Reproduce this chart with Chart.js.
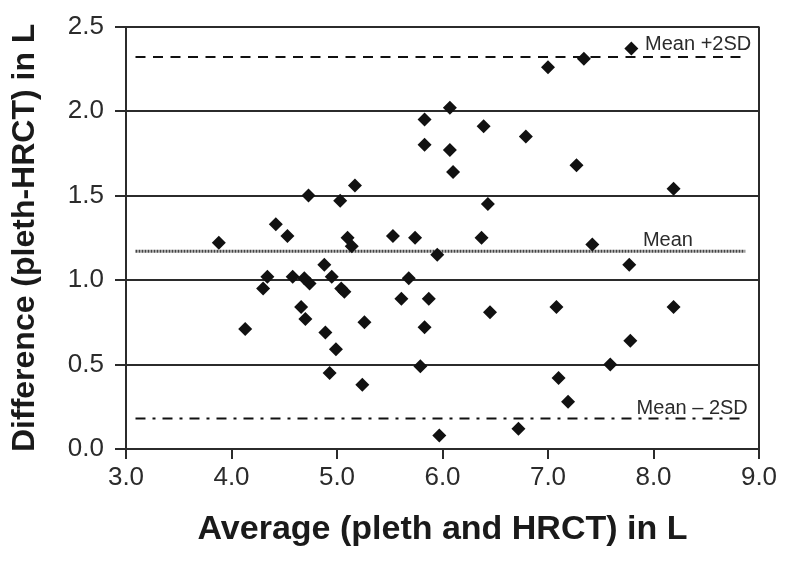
<!DOCTYPE html>
<html>
<head>
<meta charset="utf-8">
<script src="https://cdn.jsdelivr.net/npm/chart.js@4"></script>
<style>
    html, body { margin: 0; padding: 0; background: #fff; }
    canvas { display: block; }
</style>
</head>
<body>
<canvas id="baChart" width="790" height="569"></canvas>
<script>
// Average of the two methods (x) and their difference (y), litres
const averages = [
    3.88, 4.13, 4.30, 4.34, 4.42, 4.53, 4.58, 4.69, 4.74, 4.66,
    4.70, 4.88, 4.95, 4.89, 4.99, 4.93, 5.04, 5.07, 5.10, 5.14,
    5.26, 5.24, 5.53, 5.74, 5.68, 5.61, 5.87, 5.83, 5.79, 5.95,
    5.97, 4.73, 5.03, 5.17, 5.83, 5.83, 6.07, 6.07, 6.10, 7.79,
    7.34, 7.00, 6.39, 6.79, 7.27, 8.19, 6.43, 6.37, 7.42, 7.77,
    6.45, 7.08, 8.19, 7.78, 7.59, 7.10, 7.19, 6.72
];
const differences = [
    1.22, 0.71, 0.95, 1.02, 1.33, 1.26, 1.02, 1.01, 0.98, 0.84,
    0.77, 1.09, 1.02, 0.69, 0.59, 0.45, 0.95, 0.93, 1.25, 1.20,
    0.75, 0.38, 1.26, 1.25, 1.01, 0.89, 0.89, 0.72, 0.49, 1.15,
    0.08, 1.50, 1.47, 1.56, 1.95, 1.80, 2.02, 1.77, 1.64, 2.37,
    2.31, 2.26, 1.91, 1.85, 1.68, 1.54, 1.45, 1.25, 1.21, 1.09,
    0.81, 0.84, 0.84, 0.64, 0.50, 0.42, 0.28, 0.12
];

// Reference lines
const meanDiff = 1.17;
const upperLimit = 2.32;
const lowerLimit = 0.18;
const lineSpan = [3.09, 8.87];

const xTicks = [3, 4, 5, 6, 7, 8, 9];
const yTicks = [0, 0.5, 1, 1.5, 2, 2.5];

const ink = '#2b2b2b';
const fontFamily = '"Liberation Sans", Arial, Helvetica, sans-serif';

const points = averages.map((x, i) => ({ x: x, y: differences[i] }));

function flatLine(y) {
    return lineSpan.map(x => ({ x: x, y: y }));
}

// Labels sitting on the reference lines
const lineLabels = {
    id: 'lineLabels',
    afterDatasetsDraw(chart) {
        const { ctx, scales } = chart;
        const labels = [
            { text: 'Mean +2SD', x: 7.92, y: upperLimit, lift: 7 },
            { text: 'Mean', x: 7.90, y: meanDiff, lift: 5 },
            { text: 'Mean \u2013 2SD', x: 7.84, y: lowerLimit, lift: 5 }
        ];
        ctx.save();
        ctx.font = '20px ' + fontFamily;
        ctx.fillStyle = ink;
        ctx.textAlign = 'left';
        ctx.textBaseline = 'alphabetic';
        labels.forEach(l => {
            ctx.fillText(l.text, scales.x.getPixelForValue(l.x), scales.y.getPixelForValue(l.y) - l.lift);
        });
        ctx.restore();
    }
};

new Chart(document.getElementById('baChart').getContext('2d'), {
    type: 'scatter',
    data: {
        datasets: [
            {
                label: 'Difference',
                data: points,
                pointStyle: 'rectRot',
                pointRadius: 7,
                pointHoverRadius: 7,
                backgroundColor: '#111',
                borderWidth: 0
            },
            {
                type: 'line',
                label: 'Mean +2SD',
                data: flatLine(upperLimit),
                borderColor: '#111',
                borderWidth: 2,
                borderDash: [10, 7.5],
                pointRadius: 0,
                fill: false
            },
            {
                type: 'line',
                label: 'Mean',
                data: flatLine(meanDiff),
                borderColor: '#444',
                borderWidth: 3,
                borderDash: [2, 1],
                pointRadius: 0,
                fill: false
            },
            {
                type: 'line',
                label: 'Mean - 2SD',
                data: flatLine(lowerLimit),
                borderColor: '#111',
                borderWidth: 2,
                borderDash: [10, 7, 3, 7],
                pointRadius: 0,
                fill: false
            }
        ]
    },
    options: {
        responsive: false,
        animation: false,
        layout: { padding: { top: 22, right: 31, left: 0, bottom: 0 } },
        plugins: {
            legend: { display: false },
            tooltip: { enabled: false }
        },
        scales: {
            x: {
                type: 'linear',
                min: 3,
                max: 9,
                afterBuildTicks: scale => { scale.ticks = xTicks.map(v => ({ value: v })); },
                afterFit: scale => { scale.height = 120; },
                ticks: {
                    callback: v => v.toFixed(1),
                    color: ink,
                    padding: 3,
                    font: { family: fontFamily, size: 26 }
                },
                grid: {
                    color: c => (c.tick && (c.tick.value === 3 || c.tick.value === 9)) ? ink : 'rgba(0,0,0,0)',
                    tickColor: ink,
                    lineWidth: 2,
                    tickLength: 10
                },
                border: { display: true, color: ink, width: 2 },
                title: {
                    display: true,
                    text: 'Average (pleth and HRCT) in L',
                    color: '#1a1a1a',
                    font: { family: fontFamily, size: 34, weight: 'bold' },
                    padding: { top: 19, bottom: 19 }
                }
            },
            y: {
                type: 'linear',
                min: 0,
                max: 2.5,
                afterBuildTicks: scale => { scale.ticks = yTicks.map(v => ({ value: v })); },
                afterFit: scale => { scale.width = 126; },
                ticks: {
                    callback: v => v.toFixed(1),
                    color: ink,
                    padding: 11,
                    font: { family: fontFamily, size: 26 }
                },
                grid: {
                    color: ink,
                    lineWidth: 2,
                    tickLength: 11
                },
                border: { display: true, color: ink, width: 2 },
                title: {
                    display: true,
                    text: 'Difference (pleth-HRCT) in L',
                    color: '#1a1a1a',
                    font: { family: fontFamily, size: 32, weight: 'bold' },
                    padding: { top: 6, bottom: 6 }
                }
            }
        }
    },
    plugins: [lineLabels]
});
</script>
</body>
</html>
